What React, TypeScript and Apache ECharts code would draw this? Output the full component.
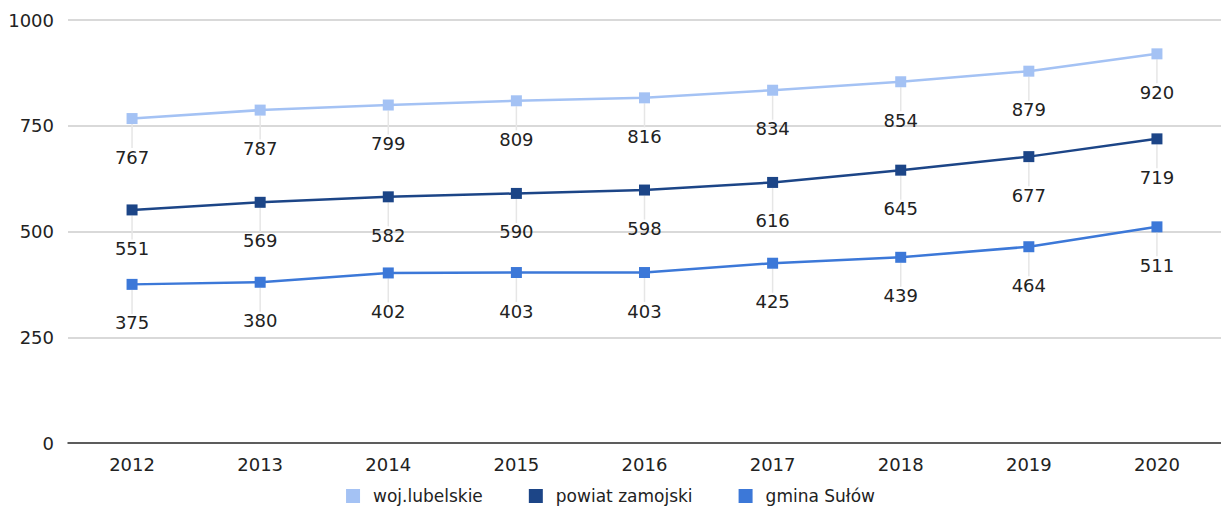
import React, { useEffect, useRef } from "react";
import * as echarts from "echarts";

const categories = ["2012", "2013", "2014", "2015", "2016", "2017", "2018", "2019", "2020"];
const seriesNames = ["woj.lubelskie", "powiat zamojski", "gmina Sułów"];
const wojValues = [767, 787, 799, 809, 816, 834, 854, 879, 920];
const powiatValues = [551, 569, 582, 590, 598, 616, 645, 677, 719];
const gminaValues = [375, 380, 402, 403, 403, 425, 439, 464, 511];
const colors = ["#a4c2f4", "#1c4587", "#3c78d8"];

const FONT = "'DejaVu Sans', Arial, sans-serif";

export default function App() {
  const ref = useRef<HTMLDivElement>(null);
  useEffect(() => {
    if (!ref.current) return;
    const chart = echarts.init(ref.current, undefined, { renderer: "svg" });
    const mk = (name: string, data: number[], color: string) => ({
      name,
      type: "line",
      data,
      symbol: "rect",
      symbolSize: 11,
      lineStyle: { color, width: 2.5 },
      itemStyle: { color },
      label: {
        show: true,
        position: "bottom",
        distance: 8,
        color: "#222",
        fontSize: 18,
        fontFamily: FONT,
      },
      labelLayout: { dy: 16 },
      labelLine: { show: true, lineStyle: { color: "#e6e6e6", width: 1.5 } },
    });
    chart.setOption({
      animation: false,
      color: colors,
      grid: { left: 68, right: -14, top: 20, bottom: 65, containLabel: false },
      legend: {
        top: 486,
        left: "center",
        padding: 0,
        itemWidth: 14,
        itemHeight: 14,
        itemGap: 46,
        icon: "rect",
        textStyle: { fontSize: 17, lineHeight: 20, color: "#222", fontFamily: FONT, padding: [0, 0, 0, 8] },
        data: seriesNames,
      },
      xAxis: {
        type: "category",
        data: categories,
        boundaryGap: true,
        axisLine: { lineStyle: { color: "#333", width: 1.5 } },
        axisTick: { show: false },
        axisLabel: { fontSize: 18, color: "#222", margin: 12, fontFamily: FONT },
      },
      yAxis: {
        type: "value",
        min: 0,
        max: 1000,
        interval: 250,
        axisLine: { show: false },
        axisTick: { show: false },
        splitLine: { lineStyle: { color: "#cccccc", width: 1.5 } },
        axisLabel: {
          fontSize: 18,
          color: "#222",
          margin: 14,
          fontFamily: FONT,
          formatter: (v: number) => String(v),
        },
      },
      series: [
        mk(seriesNames[0], wojValues, colors[0]),
        mk(seriesNames[1], powiatValues, colors[1]),
        mk(seriesNames[2], gminaValues, colors[2]),
      ],
    });
    return () => chart.dispose();
  }, []);
  return (
    <div
      ref={ref}
      style={{ position: "fixed", left: 0, top: 0, width: 1221, height: 508, background: "#fff" }}
    />
  );
}
